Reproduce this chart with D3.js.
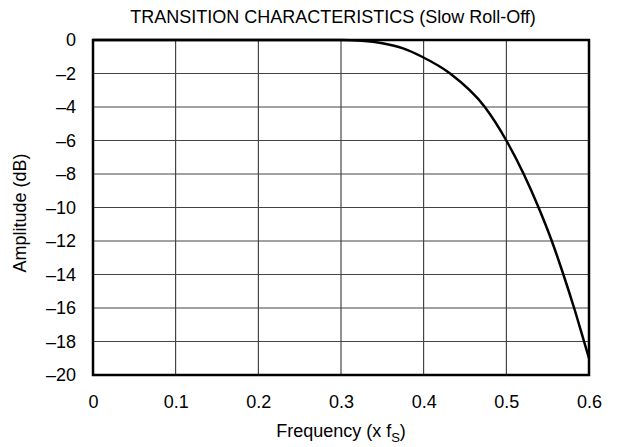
<!DOCTYPE html>
<html>
<head>
<meta charset="utf-8">
<script src="https://cdn.jsdelivr.net/npm/d3@7"></script>
<style>
  body { margin: 0; background: #fff; }
  text { font-family: "Liberation Sans", Arial, sans-serif; fill: #000; }
</style>
</head>
<body>
<svg width="617" height="447"></svg>
<script>
// curve
var freq = [0, 0.1, 0.2, 0.3, 0.325, 0.35, 0.375, 0.398, 0.432, 0.474, 0.5, 0.521, 0.539, 0.555, 0.569, 0.582, 0.594, 0.6];
var ampl = [0, 0, 0, 0, -0.05, -0.2, -0.5, -1.0, -2.0, -4.0, -6.0, -8.0, -10.0, -12.0, -14.0, -16.0, -18.0, -19.0];
var xTicks = [0, 0.1, 0.2, 0.3, 0.4, 0.5, 0.6];
var yTicks = [0, -2, -4, -6, -8, -10, -12, -14, -16, -18, -20];

var svg = d3.select("svg"),
    margin = {top: 40, right: 28, bottom: 72, left: 93},
    width = +svg.attr("width") - margin.left - margin.right,
    height = +svg.attr("height") - margin.top - margin.bottom,
    g = svg.append("g").attr("transform", "translate(" + margin.left + "," + margin.top + ")");

var x = d3.scaleLinear().domain([0, 0.6]).range([0, width]);
var y = d3.scaleLinear().domain([-20, 0]).range([height, 0]);

// grid
g.append("g")
    .selectAll("line")
    .data(xTicks)
    .enter().append("line")
      .attr("x1", function(d) { return x(d); })
      .attr("x2", function(d) { return x(d); })
      .attr("y1", 0)
      .attr("y2", height)
      .attr("stroke", "#222")
      .attr("stroke-width", 1);

g.append("g")
    .selectAll("line")
    .data(yTicks)
    .enter().append("line")
      .attr("x1", 0)
      .attr("x2", width)
      .attr("y1", function(d) { return y(d); })
      .attr("y2", function(d) { return y(d); })
      .attr("stroke", "#444")
      .attr("stroke-width", 1);

// axes (labels only)
var xAxis = g.append("g")
    .attr("transform", "translate(0," + height + ")")
    .call(d3.axisBottom(x).tickValues(xTicks).tickSize(0).tickPadding(20).tickFormat(d3.format("")));
var yAxis = g.append("g")
    .call(d3.axisLeft(y).tickValues(yTicks).tickSize(0).tickPadding(17)
      .tickFormat(function(d) { return d < 0 ? "\u2013" + Math.abs(d) : d; }));

[xAxis, yAxis].forEach(function(a) {
  a.select(".domain").remove();
  a.selectAll("text").style("font-size", "18px").style("font-family", "Liberation Sans, Arial, sans-serif");
});

// frame
g.append("rect")
    .attr("width", width)
    .attr("height", height)
    .attr("fill", "none")
    .attr("stroke", "#000")
    .attr("stroke-width", 2.5);

// curve
var line = d3.line()
    .x(function(d, i) { return x(freq[i]); })
    .y(function(d) { return y(d); })
    .curve(d3.curveMonotoneX);

g.append("path")
    .datum(ampl)
    .attr("d", line)
    .attr("fill", "none")
    .attr("stroke", "#000")
    .attr("stroke-width", 2.5);

// titles
svg.append("text")
    .attr("x", 333)
    .attr("y", 23)
    .attr("text-anchor", "middle")
    .style("font-size", "18px")
    .text("TRANSITION CHARACTERISTICS (Slow Roll-Off)");

var xl = svg.append("text")
    .attr("x", margin.left + width / 2)
    .attr("y", 437)
    .attr("text-anchor", "middle")
    .style("font-size", "18px");
xl.append("tspan").text("Frequency (x f");
xl.append("tspan").attr("dy", 5).style("font-size", "13px").text("S");
xl.append("tspan").attr("dy", -5).text(")");

svg.append("text")
    .attr("transform", "translate(26,213) rotate(-90)")
    .attr("text-anchor", "middle")
    .style("font-size", "18px")
    .text("Amplitude (dB)");
</script>
</body>
</html>
